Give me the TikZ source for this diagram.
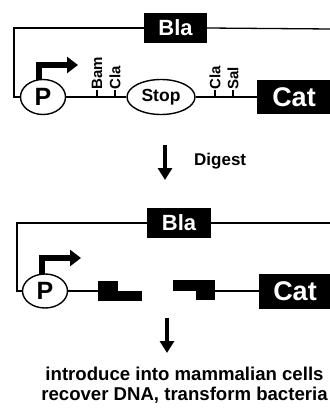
\documentclass[tikz,border=0pt]{standalone}
\usepackage{fontspec}
\setmainfont{Liberation Sans}
\usetikzlibrary{arrows.meta,shapes.geometric,calc}
\newcommand{\fsz}[1]{\bfseries\fontsize{#1}{#1}\selectfont}
\begin{document}
\begin{tikzpicture}[x=1pt,y=-1pt,
  wire/.style={line width=1.3pt},
  genebox/.style={fill=black,text=white,inner sep=0pt,draw=none},
  oval/.style={ellipse,draw,line width=1.4pt,inner sep=0pt,fill=white},
  site/.style={rotate=90,anchor=west,inner sep=0pt,font=\fsz{15}},
  promoter/.style={line width=6pt,line join=miter,-{Triangle[width=16pt,length=11pt]}},
  stepdown/.style={line width=4pt,-{Triangle[width=14pt,length=12pt]}},
  caption/.style={font=\fsz{18.6},inner sep=0pt,anchor=base}]
\useasboundingbox (0,0) rectangle (329,409);

% ---------- intact plasmid ----------
\node[genebox,minimum width=63pt,minimum height=30pt,font=\fsz{22}] (bla1) at (175.5,28) {Bla};
\node[oval,minimum width=45pt,minimum height=35pt,font=\fsz{25}] (p1) at (43,97) {P};
\node[oval,minimum width=68pt,minimum height=35pt,font=\fsz{17.5}] (stop) at (161,97) {Stop};
\node[genebox,minimum width=74pt,minimum height=34pt,font=\fsz{27}] (cat1) at (294,97) {Cat};
\coordinate (c1) at (14,97);
\coordinate (r1) at (331,29);

\draw[wire] (bla1.west) -| (c1) -- (p1.west);
\draw[wire] (bla1.east) -- (r1);
\draw[wire] (p1.east) -- (stop.west);
\draw[wire] (stop.east) -- (cat1.west);

% restriction sites
\foreach \x/\name/\lab in {97/bam/Bam,115/claA/Cla,215/claB/Cla,233/sal/Sal}{
  \coordinate (\name) at (\x,97);
  \draw[wire] (\name) -- ++(0,-7) node[site] (\name lab) {\lab};
}

% promoter arrow
\coordinate (pa1) at ($(p1.north)+(-4,1)$);
\coordinate (pt1) at (78,65);
\draw[promoter] (pa1) |- (pt1);

% ---------- digest step ----------
\coordinate (d0) at (165,145);
\coordinate (d1) at (165,180);
\draw[stepdown] (d0) -- (d1);
\node[font=\fsz{17},anchor=west,inner sep=0pt] (digest) at (194,161) {Digest};

% ---------- digested plasmid ----------
\node[genebox,minimum width=64pt,minimum height=30pt,font=\fsz{22}] (bla2) at (179,223) {Bla};
\node[oval,minimum width=45pt,minimum height=34pt,font=\fsz{25}] (p2) at (45,291) {P};
\node[genebox,minimum width=72pt,minimum height=35pt,font=\fsz{27}] (cat2) at (295,291) {Cat};
\coordinate (c2) at (17,291);
\coordinate (r2) at (331,223);
\coordinate (lfrag) at (98,291);
\coordinate (rfrag) at (215,291);

\draw[wire] (bla2.west) -| (c2) -- (p2.west);
\draw[wire] (bla2.east) -- (r2);
\draw[wire] (p2.east) -- (lfrag);
\draw[wire] (rfrag) -- (cat2.west);

% cut ends with overhangs
\fill (98,281) rectangle (118,301);
\fill (118,291) rectangle (142,301);
\fill (173,280) rectangle (196,291);
\fill (196,280) rectangle (215,300);

\coordinate (pa2) at ($(p2.north)+(-3,1)$);
\coordinate (pt2) at (81,258);
\draw[promoter] (pa2) |- (pt2);

% ---------- final step ----------
\coordinate (e0) at (167,318);
\coordinate (e1) at (167,353);
\draw[stepdown] (e0) -- (e1);
\node[caption] (t1) at (184.5,380) {introduce into mammalian cells};
\node[caption] (t2) at (184.5,400) {recover DNA, transform bacteria};
\end{tikzpicture}
\end{document}
